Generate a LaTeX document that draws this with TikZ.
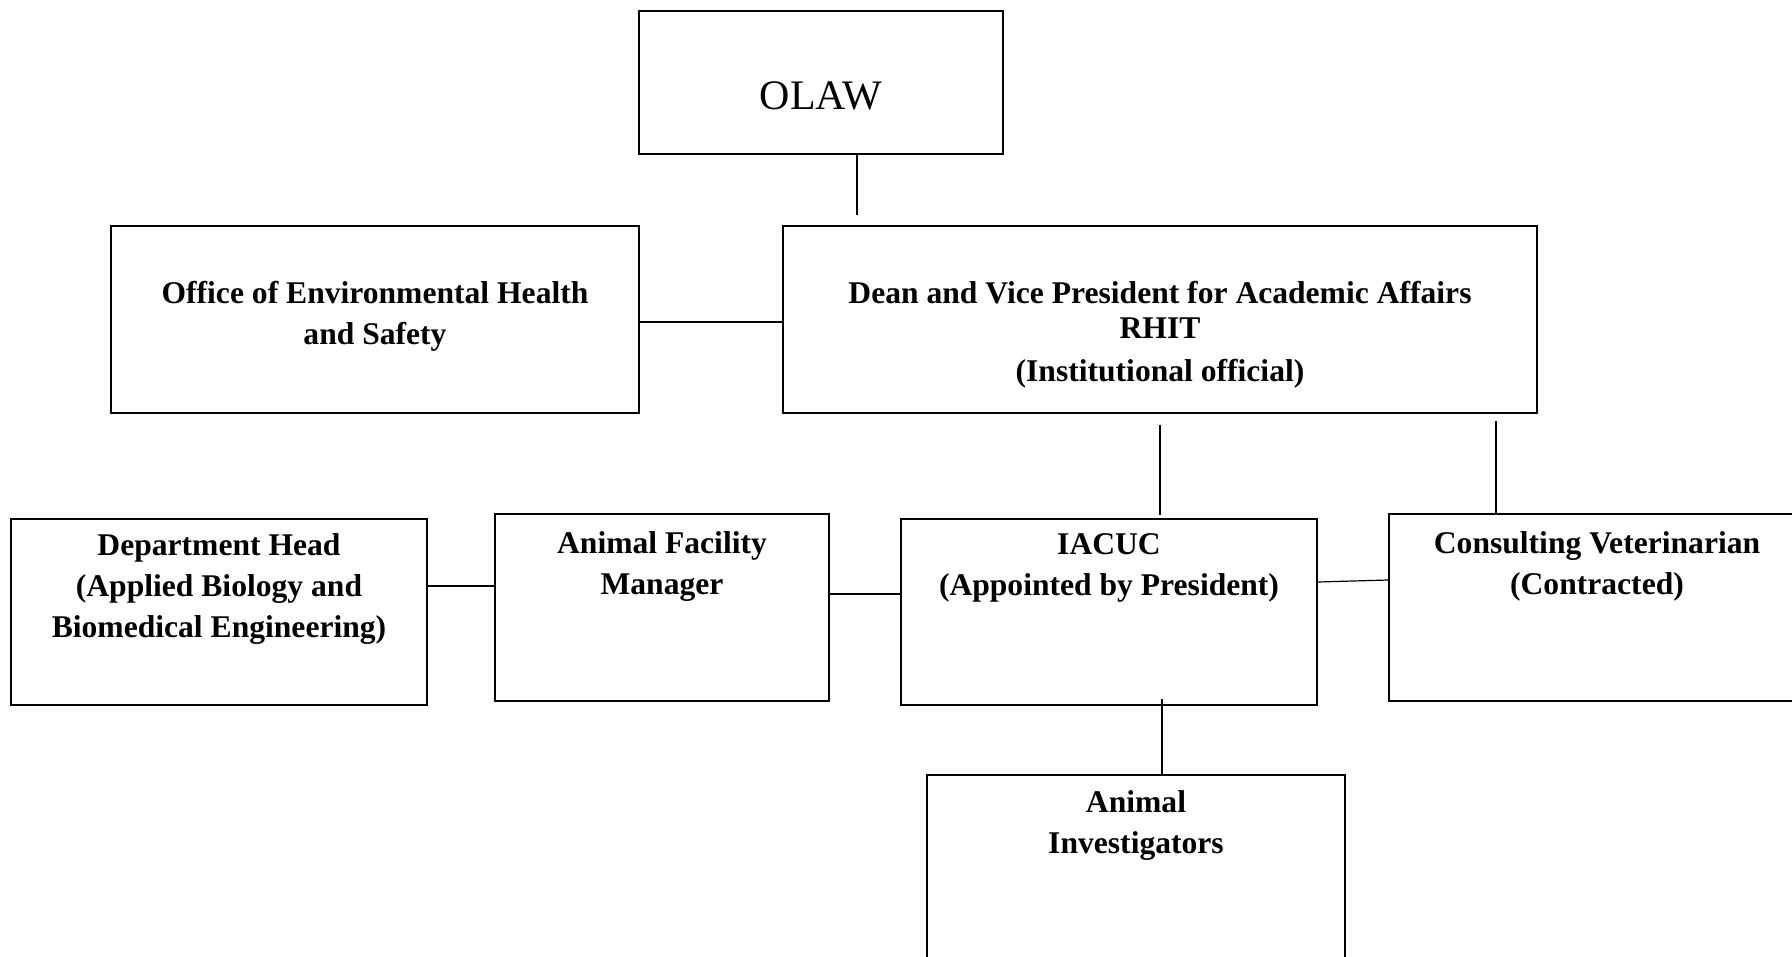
\documentclass[tikz,border=0pt]{standalone}
\usepackage{fontspec}
\setmainfont{Liberation Serif}
\usetikzlibrary{positioning}

\tikzset{
  unit/.style={draw, line width=0.8pt, inner sep=0pt},
  txt/.style={align=center, inner sep=0pt, font=\fontsize{15.8}{20.5}\selectfont\bfseries},
  link/.style={line width=0.6pt},
}

\begin{document}
\begin{tikzpicture}[x=0.5pt, y=-0.5pt]
    \clip (0,0) rectangle (1792,957);

    % boxes
    \node[unit, minimum width=182pt, minimum height=71.5pt] (olaw) at (821,82.5) {};
    \node[unit, minimum width=264pt, minimum height=93.5pt] (ehs) at (375,319.5) {};
    \node[unit, minimum width=377pt, minimum height=93.5pt] (dean) at (1160,319.5) {};
    \node[unit, minimum width=208pt, minimum height=93pt] (dept) at (219,612) {};
    \node[unit, minimum width=167pt, minimum height=93.5pt] (afm) at (662,607.5) {};
    \node[unit, minimum width=208pt, minimum height=93pt] (iacuc) at (1109,612) {};
    \node[unit, minimum width=208pt, minimum height=93.5pt] (vet) at (1597,607.5) {};
    \node[unit, minimum width=209pt, minimum height=93.5pt] (inv) at (1136,868.5) {};

    % texts
    \node[font=\fontsize{21}{25}\selectfont] (olawT) at (821,96) {OLAW};
    \node[txt, below=27.75pt of ehs.north] (ehsT) {Office of Environmental Health\\and Safety};
    \node[txt, below=27.75pt of dean.north] (deanT) {Dean and Vice President for Academic Affairs\\[-3pt]RHIT\\[1pt](Institutional official)};
    \node[txt, below=7.25pt of dept.north] (deptT) {Department Head\\(Applied Biology and\\Biomedical Engineering)};
    \node[txt, below=8.75pt of afm.north] (afmT) {Animal Facility\\Manager};
    \node[txt, below=7.25pt of iacuc.north] (iacucT) {IACUC\\(Appointed by President)};
    \node[txt, below=8.75pt of vet.north] (vetT) {Consulting Veterinarian\\(Contracted)};
    \node[txt, below=7.75pt of inv.north] (invT) {Animal\\Investigators};

    % connectors
    \coordinate (olawEnd) at (857,215);
    \draw[link] (olaw.south -| olawEnd) -- (olawEnd);
    \draw[link] ([yshift=-1.25pt]ehs.east) -- ([yshift=-1.25pt]dean.west);
    \draw[link] ([yshift=-5.5pt]dean.south) -- ([yshift=1.5pt]dean.south |- iacuc.north);
    \draw[link] ([xshift=-50.5pt]vet.north) -- ++(0pt,46pt);
    \draw[link] ([yshift=13pt]dept.east) -- ([yshift=13pt]dept.east -| afm.west);
    \draw[link] ([yshift=6.75pt]afm.east) -- ([yshift=6.75pt]afm.east -| iacuc.west);
    \draw[link] ([yshift=15pt]iacuc.east) -- ([yshift=13.75pt]vet.west);
    \draw[link] ([xshift=13pt]inv.north) -- ++(0pt,37.5pt);
\end{tikzpicture}
\end{document}
